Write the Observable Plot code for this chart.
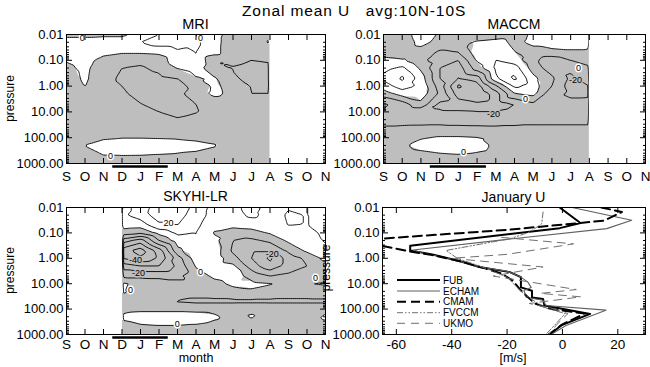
<!DOCTYPE html>
<html><head><meta charset="utf-8">
<script src="https://cdn.jsdelivr.net/npm/d3@7"></script>
<script src="https://cdn.jsdelivr.net/npm/@observablehq/plot@0.6"></script>
<style>
body{margin:0;background:#fff;}
#wrap{position:relative;width:650px;height:367px;background:#fff;overflow:hidden;font-family:"Liberation Sans",Arial,sans-serif;}
.panel{position:absolute;}
#overlay{position:absolute;left:0;top:0;pointer-events:none;}
</style></head><body><div id="wrap"></div>
<script>
// ---------- data ----------
const monthLabels = ["S","O","N","D","J","F","M","A","M","J","J","A","S","O","N"];
const pressureLevels = [0.01,0.02,0.05,0.1,0.2,0.5,1,2,5,10,20,50,100,200,500,1000];
const pressureTicks = [0.01,0.1,1,10,100,1000];
const contourLevels = [-60,-50,-40,-30,-20,-10,0,10,20,30];
const seasonBar = {start: 2.5, end: 5.5};

// MRI: months S..A (index 0..11); rows = pressureLevels
const mriMonths = [0,1,2,3,4,5,6,7,8,9,10,11];
const mriU = [
  [-3,-3,-2,-2, 3,10,10,10, 4,-5,-5,-2],
  [ 5, 5, 5, 5,10,15,15,12, 4,-7,-5, 1],
  [ 6, 8, 4, 1, 1, 2, 8,10, 4,-8,-8,-3],
  [ 1, 5,-5,-8,-8,-6, 7,10,-10,-8,-10,-9.5],
  [-3, 3,-8,-10,-11,-8,0.5,5,-8,-10.5,-12,-11],
  [-6, 2,-8,-11,-14,-12,-10,-1,1,-9,-12,-11],
  [-7,0.3,-8,-10,-13,-14,-12,-8,2,-4,-10.5,-12],
  [-8,-7,-8,-9,-12,-14,-13,-4,2.5,-3,-10,-10],
  [-8,-8,-9,-8,-9.8,-12,-13,-10,-7,-7,-7,-7],
  [-6,-6,-7,-7,-8,-10,-13,-10.5,-8,-6,-6,-6],
  [-5,-5,-5,-6,-6,-7,-9,-7,-6,-5,-5,-5],
  [-3,-3,-3,-3,-3,-3,-3,-3,-3,-3,-3,-3],
  [-3,-2,-1,-0.3,-0.3,-0.5,-0.8,-1.5,-2.5,-3,-3,-3],
  [-2,0.1,3,4,4,4,3,2,0.5,-2,-3,-3],
  [-3,-2,-0.2,-0.1,-0.2,-0.6,-1,-1.5,-3,-3,-3,-3],
  [-3,-3,-3,-3,-3,-3,-3,-3,-3,-3,-3,-3]
];
const mriLabels = [{m:2.38,p:536,t:"0"},{m:0.85,p:0.0134,t:"0"},{m:7.24,p:0.0134,t:"0"}];

// MACCM: months S..A
const maccmMonths = [0,1,2,3,4,5,6,7,8,9,10,11];
const maccmU = [
  [-8,-5, 5,-1,-5,-10,-8,-5, 2, 8, 8, 5],
  [-8,-6, 3,-3,-4, 2, 5,-3, 3, 8, 8, 5],
  [-3,-6,-4,-12,-10, 5, 8,0.5,-5,-5,-3,-3],
  [ 2, 1,-8,-15,-20, 1,10, 5,-8,-15,-10,-5],
  [ 8,12,-2,-20,-25,-5,12,15,-5,-15,-18,-12],
  [12,22, 5,-20,-30,-25, 8,22, 3,-8,-22,-15],
  [ 5,15, 8,-15,-42,-35,-12,12, 5,-10,-25,-20],
  [-5, 4, 6,-12,-35,-40,-25,-1, 3,-18,-22,-22],
  [-22,-15,-3,-22,-25,-28,-25,-20,-12,-18,-17,-16],
  [-19,-18,-18,-19,-19,-19.5,-19.5,-17,-15,-15,-15,-15],
  [-15,-14,-14,-14,-15,-15,-15,-14,-13,-13,-13,-13],
  [-7,-7,-6.5,-6,-6,-6.5,-7,-7,-7,-7,-7,-7],
  [-4,-3,-0.5,1,1,0.5,-1,-3,-4,-4,-4,-4],
  [-3,-1,2,3,3,2,-1,-3,-4,-4,-4,-4],
  [-3,-3,-2,-1,-0.5,-1,-2,-3,-3,-3,-3,-3],
  [-3,-3,-3,-3,-3,-3,-3,-3,-3,-3,-3,-3]
];
const maccmLabels = [{m:5.88,p:11.9,t:"-20"},{m:4.27,p:365,t:"0"},{m:7.59,p:3.3,t:"0"},{m:10.42,p:0.208,t:"0"},{m:10.26,p:0.61,t:"-20"}];

// SKYHI-LR: months D..N (index 3..14)
const skyhiMonths = [3,4,5,6,7,8,9,10,11,12,13,14];
const skyhiU = [
  [ 8,12,28,26,17, 6, 7,14, 6, 9.5, 9.8,14],
  [ 8,15,25,24,15, 6, 6,12, 7,10.8, 9.8,13],
  [ 5, 4,18,20,12, 4, 3, 4, 5,10.2, 9.8,12],
  [-5,-8, 3,12,10,-1,-6,-4, 1, 6, 7,12],
  [-25,-35,-10, 5,10, 3,-10,-12,-8, 2, 4,11],
  [-45,-55,-35,-3, 8, 6,-12,-18,-18,-8, 2, 8],
  [-40,-48,-38,-15, 5, 6,-6,-20,-32,-15,-8, 3],
  [-25,-30,-30,-18, 1, 5, 2,-15,-27,-15,-10,-3],
  [-12,-12,-12,-12,-5, 2, 4,-3,-10,-8,-6,-4],
  [ 2,-4,-6,-8,-8,-3, 2, 2,0.5,-3,-0.5, 1],
  [ 1,-3,-5,-6,-6,-5,-3,-1,-3,-5,-5,-4],
  [-4,-4,-6,-10.5,-12,-12,-12,-12,-12,-12,-12,-12],
  [-2,-1.5,-1.5,-1.5,-2,-2,-2,-1,-2,-2,-2,-2],
  [ 1, 3, 3, 3, 3, 1,-2,0.5,-3,-3,-3, 1],
  [-2,-1,-0.5,-0.5,-1,-2,-3,-3,-3,-3,-3,-2],
  [-3,-3,-3,-3,-3,-3,-3,-3,-3,-3,-3,-3]
];
const skyhiLabels = [{m:5.51,p:0.0427,t:"20"},{m:3.73,p:1.2,t:"-40"},{m:3.89,p:3.7,t:"-20"},{m:7.24,p:3.5,t:"0"},{m:3.46,p:18.5,t:"0"},{m:5.98,p:404,t:"0"},{m:11.12,p:0.665,t:"-20"},{m:13.46,p:6.2,t:"0"}];

// January U profiles: [u (m/s), pressure]
const janTicks = [-60,-40,-20,0,20];
const fubProfile = [[-1,0.01],[6.5,0.041],[-1,0.065],[-55,0.32],[-55,0.49],[-47,0.7],[-36,1.4],[-30,2.2],[-19,3.5],[-15,5.5],[-15,14],[-11,19],[-11,35],[-7,40],[-6.5,72],[10,155],[-0.5,440],[-4.5,1000]];
const echamProfile = [[3.5,0.01],[25,0.032],[16,0.068],[-20,0.18],[-54,0.47],[-51,0.6],[-37,1.3],[-30,2.2],[-20,3.2],[-15,5.5],[-12.5,8.7],[-11.3,14],[-13.9,18.6],[-13.1,34],[-7.1,45],[-5.9,72],[15.7,110],[1.3,443],[-4.1,1000]];
const cmamProfile = [[14,0.01],[21.5,0.015],[15,0.033],[-20,0.076],[-66,0.17],[-78,0.23],[-66,0.31],[-54,0.57],[-47,0.75],[-37,1.3],[-28,2.5],[-22,4],[-18,7.5],[-15.5,16],[-13,30],[-10,60],[-4,100],[8,150],[0,400],[-5,1000]];
const fvccmProfile = [[-7,0.015],[-7.5,0.044],[-12,0.094],[-19,0.17],[-42,0.49],[-38,1.0],[-29,2.2],[-20,5.5],[-15,20],[-10,50],[-6,90],[1,150],[-3,450],[-6,1000]];
const ukmoProfile = [[-22,0.15],[4,0.27],[-20,0.7],[-40,1.0],[-7,2.2],[-25,5],[5,17],[-8,24],[6.7,33],[-12,60],[-3,100],[2,150],[-2,400],[-5,1000]];
const janModels = ["FUB","ECHAM","CMAM","FVCCM","UKMO"];

// ---------- drawing ----------
const GRAY = "#bebebe";
const FONT = "Liberation Sans, Arial, Helvetica, sans-serif";
const wrap = document.getElementById("wrap");
const minorTicks = d3.range(-2, 3).flatMap(e => d3.range(2, 10).map(k => +(k * Math.pow(10, e)).toPrecision(3)));
const monthIdx = monthLabels.map((_, i) => i);

function frameAxes(xTicks, xFormat, xPad) {
  const marks = [
    Plot.axisX({anchor: "bottom", ticks: xTicks, tickSize: 0, tickPadding: xPad, tickFormat: xFormat, label: null, fontSize: 13.5}),
    Plot.axisX({anchor: "bottom", ticks: xTicks, tickSize: -5, tickFormat: () => "", label: null}),
    Plot.axisX({anchor: "top", ticks: xTicks, tickSize: -5, tickFormat: () => "", label: null}),
    Plot.axisY({anchor: "left", ticks: pressureTicks, tickSize: 0, tickPadding: 3, tickFormat: d => d.toFixed(2), label: null, fontSize: 13, style: "letter-spacing:0.8px"})
  ];
  for (const a of ["left", "right"]) {
    marks.push(Plot.axisY({anchor: a, ticks: pressureTicks, tickSize: -6, tickFormat: () => "", label: null}));
    marks.push(Plot.axisY({anchor: a, ticks: minorTicks, tickSize: -3, tickFormat: () => "", label: null}));
  }
  marks.push(Plot.frame({stroke: "black"}));
  return marks;
}

function place(node, left, top) {
  const d = document.createElement("div");
  d.className = "panel"; d.style.left = left + "px"; d.style.top = top + "px";
  d.appendChild(node); wrap.appendChild(d);
}

function contourPanel({months, grid, labels, left, top, width, height, mL, mR, mT, mB, xPad}) {
  const pts = [];
  pressureLevels.forEach((p, i) => months.forEach((m, j) => pts.push({m, p, u: grid[i][j]})));
  const m0 = d3.min(months), m1 = d3.max(months);
  const a0 = 0, a1 = monthLabels.length - 1;
  const sx1 = m0 > a0 ? m0 - 0.6 : m0;
  const sx2 = m1 < a1 ? m1 + 0.6 : m1;
  const gaps = [];
  if (m0 > a0) gaps.push({a: a0, b: m0});
  if (m1 < a1) gaps.push({a: m1, b: a1});
  const yDom = [pressureLevels[0], pressureLevels[pressureLevels.length - 1]];
  const plot = Plot.plot({
    width, height, marginLeft: mL, marginRight: mR, marginTop: mT, marginBottom: mB,
    style: {fontFamily: FONT, fontSize: "12px", color: "black", background: "none", overflow: "visible"},
    x: {domain: [a0, a1], axis: null},
    y: {type: "log", domain: yDom, reverse: true, axis: null},
    color: {type: "threshold", domain: [0], range: [GRAY, "#ffffff"]},
    marks: [
      Plot.contour(pts, {x: "m", y: "p", fill: "u", stroke: "none", thresholds: [-999, 0], interpolate: "barycentric",
        x1: m0, x2: m1, y1: yDom[0], y2: yDom[1]}),
      Plot.contour(pts, {x: "m", y: "p", value: "u", fill: "none", stroke: "black", strokeWidth: 0.9, thresholds: contourLevels,
        interpolate: "barycentric", x1: sx1, x2: sx2, y1: yDom[0], y2: yDom[1], clip: true}),
      Plot.rect(gaps, {x1: "a", x2: "b", fill: "white"}),
      Plot.text(labels, {x: "m", y: "p", text: "t", fontSize: 9, fill: "black",
        stroke: d => d.t.startsWith("-") ? GRAY : "white", strokeWidth: 3}),
      Plot.ruleY([seasonBar], {x1: "start", x2: "end", y: yDom[1], dy: 3, stroke: "black", strokeWidth: 2.5}),
      ...frameAxes(monthIdx, i => monthLabels[i], xPad)
    ]
  });
  place(plot, left, top);
}

contourPanel({months: mriMonths, grid: mriU, labels: mriLabels, left: 0, top: 18, width: 330, height: 168, mL: 66, mR: 5, mT: 16, mB: 23, xPad: 7.7});
contourPanel({months: maccmMonths, grid: maccmU, labels: maccmLabels, left: 320, top: 18, width: 330, height: 168, mL: 63, mR: 5, mT: 16, mB: 23, xPad: 7.7});
contourPanel({months: skyhiMonths, grid: skyhiU, labels: skyhiLabels, left: 0, top: 190, width: 330, height: 164, mL: 66, mR: 5, mT: 17, mB: 20, xPad: 5.3});

// January U panel
const profiles = [fubProfile, echamProfile, cmamProfile, fvccmProfile, ukmoProfile];
const lineStyles = [
  {stroke: "black", strokeWidth: 2, dash: null},
  {stroke: "#606060", strokeWidth: 1.1, dash: null},
  {stroke: "black", strokeWidth: 2, dash: "9,5"},
  {stroke: "#707070", strokeWidth: 1, dash: "6,2,1.5,2,1.5,2"},
  {stroke: "#707070", strokeWidth: 1, dash: "8,6"}
];
const janPlot = Plot.plot({
  width: 330, height: 164, marginLeft: 62, marginRight: 5, marginTop: 17, marginBottom: 20,
  style: {fontFamily: FONT, fontSize: "12px", color: "black", background: "none", overflow: "visible"},
  x: {domain: [-65, 30], axis: null},
  y: {type: "log", domain: [0.01, 1000], reverse: true, axis: null},
  marks: [
    ...profiles.map((prof, i) => Plot.line(prof, {x: d => d[0], y: d => d[1], stroke: lineStyles[i].stroke,
      strokeWidth: lineStyles[i].strokeWidth, strokeDasharray: lineStyles[i].dash, clip: true})),
    ...frameAxes(janTicks, d => String(d), 5.3)
  ]
});
place(janPlot, 320, 190);

// overlay texts + legend
const svg = d3.select(wrap).append("svg").attr("id", "overlay").attr("width", 650).attr("height", 367)
  .style("font-family", FONT);
function txt(x, y, s, size, opts = {}) {
  const t = svg.append("text").attr("x", x).attr("y", y).text(s).attr("font-size", size)
    .attr("text-anchor", opts.anchor || "middle").attr("fill", "black").style("white-space", "pre");
  if (opts.rotate) t.attr("transform", `rotate(-90 ${x} ${y})`);
  if (opts.ls) t.style("letter-spacing", opts.ls + "px");
  return t;
}
txt(242, 15.5, "Zonal mean U   avg:10N-10S", 15.5, {anchor: "start", ls: 0.9});
txt(195.5, 28.5, "MRI", 14.5);
txt(514, 28.5, "MACCM", 14);
txt(195.5, 200.5, "SKYHI-LR", 14);
txt(513.5, 201.5, "January U", 14);
txt(13.5, 98.5, "pressure", 12, {rotate: true});
txt(13.5, 270.5, "pressure", 12, {rotate: true});
txt(329.5, 268, "pressure", 12, {rotate: true});
txt(196, 362, "month", 12.5);
txt(513, 362, "[m/s]", 12.5);
const legendY = [280, 291, 301.7, 312.7, 323.3];
janModels.forEach((name, i) => {
  const s = lineStyles[i];
  svg.append("line").attr("x1", 397).attr("x2", 440).attr("y1", legendY[i]).attr("y2", legendY[i])
    .attr("stroke", s.stroke).attr("stroke-width", s.strokeWidth).attr("stroke-dasharray", s.dash);
  txt(443, legendY[i] + 3.6, name, 10, {anchor: "start"});
});
</script></body></html>
